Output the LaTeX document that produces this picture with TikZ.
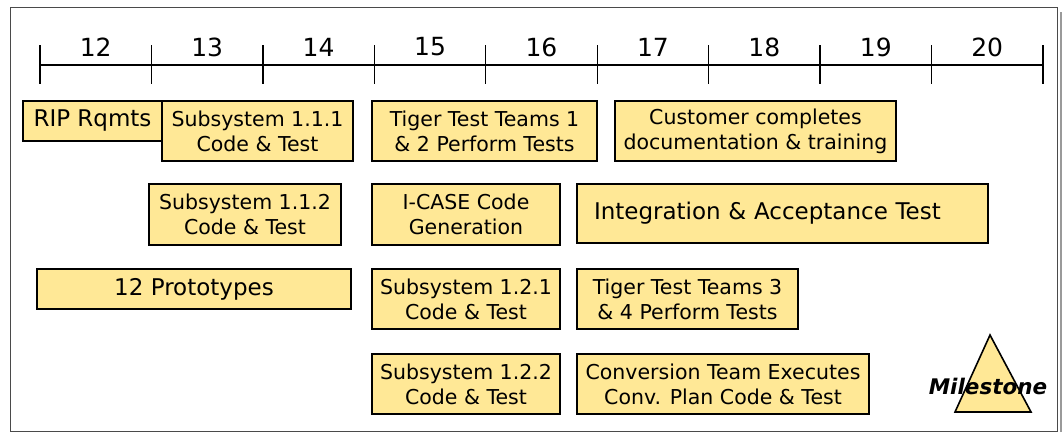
\documentclass[tikz,border=0pt]{standalone}
\usepackage{fontspec}
\setmainfont{DejaVu Sans}
\usetikzlibrary{positioning,calc}
\definecolor{barfill}{HTML}{FFE896}
\definecolor{framegray}{HTML}{4A4A4A}
\definecolor{edgegray}{HTML}{9A9A9A}

\begin{document}
\begin{tikzpicture}[
  x=1pt, y=-1pt,
  font=\fontsize{20.5}{25}\selectfont,
  bar/.style={draw=black, fill=barfill, line width=1.6pt, align=center, inner sep=0pt},
  wk/.style={font=\fontsize{25}{30}\selectfont, inner sep=0pt},
  tickline/.style={line width=1.4pt},
  ms/.style={font=\fontsize{21.5}{25}\selectfont\bfseries\itshape, inner sep=0pt}
]
\useasboundingbox (0,0) rectangle (1062,432);
\draw[framegray, line width=0.8pt] (10,7) rectangle (1057,431);
\fill[edgegray] (1059.5,12) rectangle (1062,432);

% time line
\coordinate (t0) at (40,65);
\coordinate (t9) at (1043,65);
\draw[tickline] (t0) -- (t9);
\foreach \i in {0,...,9}
  \draw[tickline] ($(t0)!\i/9!(t9)$) ++(0,-20) -- ++(0,39);
\foreach \i/\wkno in {0/12,1/13,2/14,3/15,4/16,5/17,6/18,7/19,8/20}
  \node[wk] (wk\wkno) at ({40+111.44*(\i+0.5)},47) {\wkno};

% row 1
\node[bar, minimum width=139pt, minimum height=40pt, font=\fontsize{23}{27}\selectfont] (rip) at (92.5,121) {RIP Rqmts};
\node[bar, minimum width=191pt, minimum height=60pt] (sub111) at (257.5,131) {Subsystem 1.1.1\\Code \& Test};
\node[bar, minimum width=225pt, minimum height=60pt] (tiger12) at (484.5,131) {Tiger Test Teams 1\\\& 2 Perform Tests};
\node[bar, minimum width=281pt, minimum height=60pt] (cust) at (755.5,131) {Customer completes\\documentation \& training};

% row 2
\node[bar, minimum width=192pt, minimum height=61pt] (sub112) at (245,214.5) {Subsystem 1.1.2\\Code \& Test};
\node[bar, minimum width=188pt, minimum height=61pt] (icase) at (466,214.5) {I-CASE Code\\Generation};
\node[bar, minimum width=411pt, minimum height=59pt, align=left, text width=377pt,
      font=\fontsize{23}{27}\selectfont] (integ) at (782.5,213.5) {Integration \& Acceptance Test};

% row 3
\node[bar, minimum width=314pt, minimum height=40pt, font=\fontsize{23}{27}\selectfont] (proto) at (194,289) {12 Prototypes};
\node[bar, minimum width=188pt, minimum height=60pt] (sub121) at (466,299) {Subsystem 1.2.1\\Code \& Test};
\node[bar, minimum width=221pt, minimum height=60pt] (tiger34) at (687.5,299) {Tiger Test Teams 3\\\& 4 Perform Tests};

% row 4
\node[bar, minimum width=188pt, minimum height=60pt] (sub122) at (466,384) {Subsystem 1.2.2\\Code \& Test};
\node[bar, minimum width=292pt, minimum height=60pt] (conv) at (723,384) {Conversion Team Executes\\Conv. Plan Code \& Test};

% milestone
\draw[bar] (990,335) -- (955,412) -- (1031,412) -- cycle;
\node[ms] (mstone) at (988,386) {Milestone};
\end{tikzpicture}
\end{document}
